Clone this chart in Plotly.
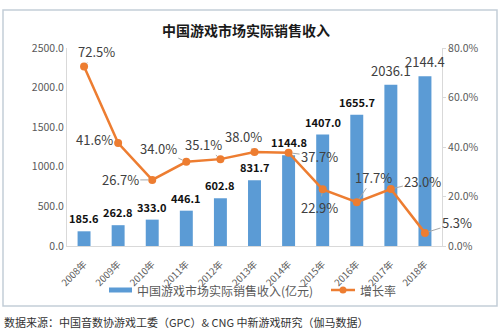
import plotly.graph_objects as go

years = ["2008年", "2009年", "2010年", "2011年", "2012年", "2013年",
         "2014年", "2015年", "2016年", "2017年", "2018年"]
revenue = [185.6, 262.8, 333.0, 446.1, 602.8, 831.7,
           1144.8, 1407.0, 1655.7, 2036.1, 2144.4]
growth = [72.5, 41.6, 26.7, 34.0, 35.1, 38.0, 37.7, 22.9, 17.7, 23.0, 5.3]

bar_name = "中国游戏市场实际销售收入(亿元)"
line_name = "增长率"
title = "中国游戏市场实际销售收入"
source = "数据来源：中国音数协游戏工委（GPC）& CNG 中新游戏研究（伽马数据）"

# pixel offsets (text centre relative to point) for growth labels
label_offsets = [(12, -15), (-24, -4), (-32, 0), (-28, -13), (-17, -15), (-11, -15),
                 (31, 4), (-3, 18), (17, -25), (32, -8), (32, -10)]

BLUE = "#5b9bd5"
ORANGE = "#ed7d31"
FONT = "Noto Sans CJK SC"

W, H = 499, 336
L, R, T, B = 67, 57, 48, 90
PW, PH = W - L - R, H - T - B


def px(x):
    return (x - L) / PW


def py(y):
    return (H - B - y) / PH


idx = list(range(len(years)))

fig = go.Figure()
fig.add_trace(go.Bar(
    x=idx, y=revenue, marker=dict(color=BLUE, line=dict(width=0)),
    width=0.38, name=bar_name, showlegend=False, yaxis="y",
))
fig.add_trace(go.Scatter(
    x=idx, y=[g / 100 for g in growth], mode="lines+markers",
    line=dict(color=ORANGE, width=2.5), marker=dict(color=ORANGE, size=8),
    name=line_name, showlegend=False, yaxis="y2",
))

annotations = []
# revenue labels above bars
for i, v in enumerate(revenue):
    big = i >= 9
    annotations.append(dict(
        x=i, y=v, xref="x", yref="y", yanchor="bottom", yshift=3,
        text=f"{v:.1f}" if big else f"<b>{v:.1f}</b>", showarrow=False,
        font=dict(family=FONT, size=13 if big else 11,
                  color="#404040" if big else "#111111"),
    ))
# growth labels with leader lines
for i, g in enumerate(growth):
    ax, ay = label_offsets[i]
    annotations.append(dict(
        x=i, y=g / 100, xref="x", yref="y2", text=f"{g:.1f}%",
        showarrow=True, arrowhead=0, arrowwidth=1, arrowcolor="#a6a6a6",
        ax=ax, ay=ay, standoff=4,
        font=dict(family=FONT, size=13, color="#404040"),
    ))
# title
annotations.append(dict(
    x=px(246), y=py(30), xref="paper", yref="paper", showarrow=False,
    xanchor="center", yanchor="middle",
    text=f"<b>{title}</b>", font=dict(family=FONT, size=14, color="#1a1a1a"),
))
# legend texts
annotations.append(dict(
    x=px(135), y=py(290), xref="paper", yref="paper", showarrow=False,
    xanchor="left", yanchor="middle", text=bar_name,
    font=dict(family=FONT, size=12, color="#595959"),
))
annotations.append(dict(
    x=px(358), y=py(290), xref="paper", yref="paper", showarrow=False,
    xanchor="left", yanchor="middle", text=line_name,
    font=dict(family=FONT, size=12, color="#595959"),
))
# source note
annotations.append(dict(
    x=px(2), y=py(322), xref="paper", yref="paper", showarrow=False,
    xanchor="left", yanchor="middle", text=source,
    font=dict(family=FONT, size=11, color="#333333"),
))

shapes = [
    # outer frame
    dict(type="rect", xref="paper", yref="paper", x0=px(3), x1=px(497),
         y0=py(306), y1=py(10), line=dict(color="#c3ced8", width=1.5)),
    # legend swatches
    dict(type="rect", xref="paper", yref="paper", x0=px(109), x1=px(132),
         y0=py(292.5), y1=py(287.5), fillcolor=BLUE, line=dict(width=0)),
    dict(type="line", xref="paper", yref="paper", x0=px(331), x1=px(355),
         y0=py(290), y1=py(290), line=dict(color=ORANGE, width=2.5)),
    dict(type="circle", xref="paper", yref="paper", x0=px(339.5), x1=px(346.5),
         y0=py(293.5), y1=py(286.5), fillcolor=ORANGE, line=dict(width=0)),
]

fig.update_layout(
    width=W, height=H, margin=dict(l=L, r=R, t=T, b=B),
    paper_bgcolor="white", plot_bgcolor="white",
    font=dict(family=FONT, color="#595959"),
    bargap=0.6, showlegend=False,
    xaxis=dict(
        tickmode="array", tickvals=idx, ticktext=years, tickangle=-45,
        range=[-0.5, len(years) - 0.5], showgrid=False, zeroline=False,
        showline=True, linecolor="#d9d9d9", linewidth=1,
        tickfont=dict(family=FONT, size=9.5, color="#595959"), ticks="",
        ticklabelstandoff=8,
    ),
    yaxis=dict(
        range=[0, 2500], dtick=500, tickformat=".1f", showgrid=False,
        zeroline=False, showline=True, linecolor="#d9d9d9", linewidth=1,
        tickfont=dict(family=FONT, size=10.5, color="#595959"),
        ticks="", ticklen=0,
    ),
    yaxis2=dict(
        range=[0, 0.8], dtick=0.2, tickformat=".1%", overlaying="y",
        side="right", showgrid=False, zeroline=False, showline=True,
        linecolor="#d9d9d9", linewidth=1, ticks="outside", ticklen=3,
        tickcolor="#d9d9d9",
        tickfont=dict(family=FONT, size=10.5, color="#595959"),
    ),
    annotations=annotations, shapes=shapes,
)

fig.write_html("out.html")
